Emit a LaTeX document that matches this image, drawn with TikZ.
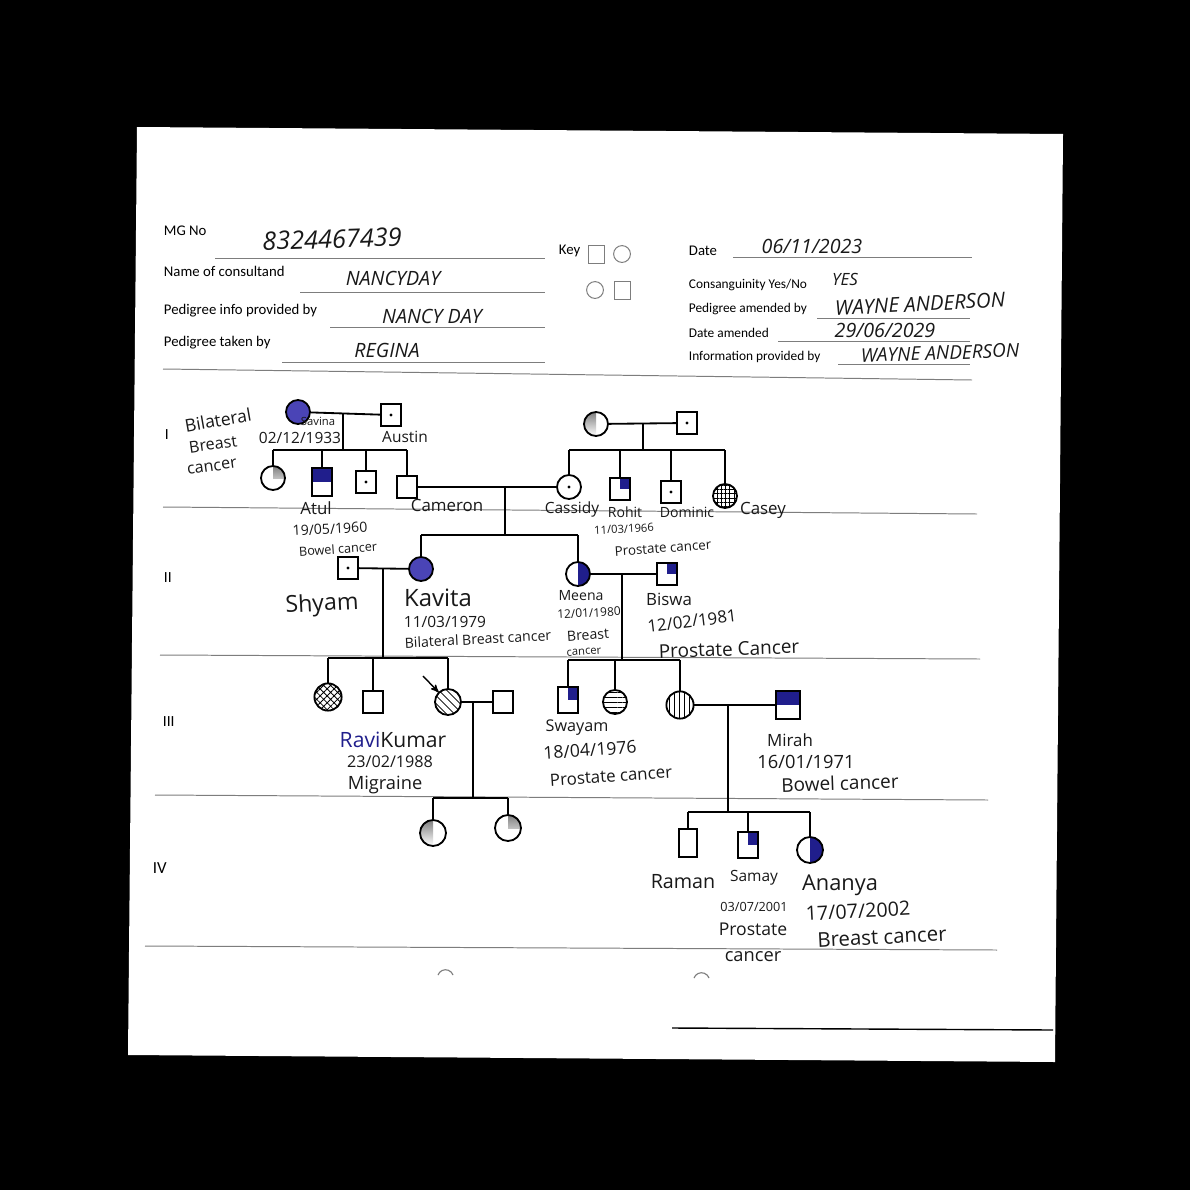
\documentclass[tikz,border=0pt]{standalone}
\usepackage{fontspec}
\setmainfont{Carlito}
\newfontfamily\hand{Open Sans}
\newcommand*{\pen}[1]{\hand\fontsize{#1}{#1}\selectfont}
\usepackage{tikz}
\usetikzlibrary{patterns.meta,arrows}
\definecolor{penblue}{RGB}{74,68,182}
\definecolor{inkblue}{RGB}{32,30,140}
\definecolor{shade}{RGB}{70,62,60}
\definecolor{rulegrey}{RGB}{125,125,125}
\definecolor{ink}{RGB}{25,25,25}
\tikzstyle{male} = [draw, rectangle, minimum width=0.5cm, minimum height=0.55cm, inner sep=0pt]
\tikzstyle{female} = [draw, circle, minimum size=0.6cm, inner sep=0pt]
\tikzstyle{marked} = [path picture={\fill (path picture bounding box.center) circle (1.2pt);}]
\tikzstyle{halfL} = [path picture={\fill[shade] (path picture bounding box.north west) rectangle (path picture bounding box.south);}]
\tikzstyle{halfR} = [path picture={\fill[inkblue] (path picture bounding box.north) rectangle (path picture bounding box.south east);}]
\tikzstyle{quadB} = [path picture={\fill[inkblue] (path picture bounding box.north) rectangle (path picture bounding box.east);}]
\tikzstyle{quadG} = [path picture={\fill[shade] (path picture bounding box.north) rectangle (path picture bounding box.east);}]
\tikzstyle{topB} = [path picture={\fill[inkblue] (path picture bounding box.north west) rectangle (path picture bounding box.east);}]
\tikzstyle{hand} = [inner sep=0pt, text=ink]
\tikzstyle{form} = [anchor=west, inner sep=0pt, font=\fontsize{10.5}{10.5}\selectfont]
\tikzstyle{smallform} = [form, font=\fontsize{9.5}{9.5}\selectfont]
\tikzstyle{formline} = [draw=rulegrey, line width=0.7pt]
\tikzstyle{keybox} = [draw=rulegrey, line width=0.7pt, inner sep=0pt]
\tikzstyle{junction} = [coordinate]

\begin{document}
\begin{tikzpicture}[x=0.025cm, y=-0.025cm, line width=1.3pt, >=stealth']
    \useasboundingbox (0,0) rectangle (1190,1190);
    \fill[black] (0,0) rectangle (1190,1190);
    \fill[white] (137,127) -- (1063,134) -- (1055,1062) -- (128,1055) -- cycle;

    % form header, left
    \node[form] (mgno) at (163,231) {MG No};
    \node[form] (consultand) at (163,271) {Name of consultand};
    \node[form] (infoby) at (163,311) {Pedigree info provided by};
    \node[form] (takenby) at (163,343) {Pedigree taken by};
    \draw[formline] (215,258) -- (545,258);
    \draw[formline] (300,292) -- (545,292);
    \draw[formline] (330,327) -- (545,327);
    \draw[formline] (282,362) -- (545,362);
    \draw[formline] (163,369) -- (972,380);
    \node[hand, rotate=2] (v-mgno) at (332,239) {\pen{18}\itshape 8324467439};
    \node[hand] (v-consultand) at (393,278) {\pen{14}\itshape NANCYDAY};
    \node[hand] (v-infoby) at (432,316) {\pen{14}\itshape NANCY DAY};
    \node[hand] (v-takenby) at (387,350) {\pen{14}\itshape REGINA};

    % key
    \node[form] (key) at (558,251) {Key};
    \node[keybox, minimum width=0.4cm, minimum height=0.45cm] (key1) at (596,254) {};
    \node[keybox, circle, minimum size=0.42cm] (key2) at (622,254) {};
    \node[keybox, circle, minimum size=0.42cm] (key3) at (595,290) {};
    \node[keybox, minimum width=0.4cm, minimum height=0.45cm] (key4) at (622,290) {};

    % form header, right
    \node[form] (date) at (688,251) {Date};
    \node[smallform] (consang) at (688,285) {Consanguinity Yes/No};
    \node[smallform] (amendby) at (688,309) {Pedigree amended by};
    \node[smallform] (amenddate) at (688,333) {Date amended};
    \node[smallform] (infoby2) at (688,357) {Information provided by};
    \draw[formline] (733,257) -- (972,257);
    \draw[formline] (817,318) -- (970,318);
    \draw[formline] (778,341) -- (970,341);
    \draw[formline] (838,364) -- (970,364);
    \node[hand] (v-date) at (812,246) {\pen{14}\itshape 06/11/2023};
    \node[hand] (v-consang) at (845,279) {\pen{12}\itshape YES};
    \node[hand, rotate=3] (v-amendby) at (920,304) {\pen{14.5}\itshape WAYNE ANDERSON};
    \node[hand] (v-amenddate) at (885,330) {\pen{14}\itshape 29/06/2029};
    \node[hand, rotate=2] (v-infoby2) at (940,353) {\pen{13.5}\itshape WAYNE ANDERSON};

    % generation rules and numerals
    \draw[formline] (163,507) -- (977,514);
    \draw[formline] (160,655) -- (980,659);
    \draw[formline] (155,795) -- (988,800);
    \draw[formline] (145,946) -- (997,950);
    \draw[line width=1pt] (672,1028) -- (1053,1030);
    \node[form, font=\fontsize{11}{11}\selectfont] (gen1) at (164,435) {I};
    \node[form, font=\fontsize{11}{11}\selectfont] (gen2) at (163,578) {II};
    \node[form, font=\fontsize{11}{11}\selectfont] (gen3) at (162,722) {III};
    \node[form, font=\fontsize{12}{12}\selectfont] (gen4) at (152,868) {IV};
    \draw[rulegrey, line width=0.8pt] (438,975) arc[start angle=160, end angle=20, radius=0.2cm];
    \draw[rulegrey, line width=0.8pt] (694,978) arc[start angle=160, end angle=20, radius=0.2cm];

    % generation I
    \node[female, fill=penblue] (savina) at (298,412) {};
    \node[male, marked] (austin) at (391,415) {};
    \node[female, halfL] (nana) at (596,424) {};
    \node[male, marked] (papa) at (687,423) {};
    \draw (savina) -- (austin);
    \draw (nana) -- (papa);
    \node[junction] (u1) at (343,414) {};
    \node[junction] (d1) at (343,450) {};
    \node[junction] (u2) at (643,424) {};
    \node[junction] (d2) at (643,450) {};
    \draw (u1) -- (d1);
    \draw (u2) -- (d2);

    % generation II, first row of children
    \node[female, quadG] (sis) at (273,478) {};
    \node[male, topB, minimum height=0.7cm] (atul) at (322,482) {};
    \node[male, marked] (bro) at (366,482) {};
    \node[male] (cameron) at (407,487) {};
    \node[female, marked] (cassidy) at (569,487) {};
    \node[male, quadB] (rohit) at (620,489) {};
    \node[male, marked] (dominic) at (671,492) {};
    \node[female, pattern={Hatch[angle=0,distance=3pt,line width=0.6pt]}] (casey) at (725,496) {};
    \draw (sis |- d1) -- (cameron |- d1);
    \foreach \kid in {sis,atul,bro,cameron} \draw (\kid) -- (\kid |- d1);
    \draw (cassidy |- d2) -- (casey |- d2);
    \foreach \kid in {cassidy,rohit,dominic,casey} \draw (\kid) -- (\kid |- d2);
    \draw (cameron) -- (cassidy);
    \node[junction] (u3) at (505,487) {};
    \node[junction] (d3) at (505,535) {};
    \draw (u3) -- (d3);

    \node[hand, rotate=10] (t-bil1) at (218,420) {\pen{12.5}Bilateral};
    \node[hand, rotate=8] (t-bil2) at (213,444) {\pen{11.5}Breast};
    \node[hand, rotate=8] (t-bil3) at (212,467) {\pen{11.5}cancer};
    \node[hand] (t-savina) at (318,421) {\pen{8}Savina};
    \node[hand] (t-savdob) at (300,438) {\pen{11}02/12/1933};
    \node[hand] (t-austin) at (405,437) {\pen{11}Austin};
    \node[hand] (t-atul) at (316,508) {\pen{12}Atul};
    \node[hand, rotate=3] (t-atuldob) at (330,529) {\pen{10}19/05/1960};
    \node[hand, rotate=4] (t-atulca) at (338,549) {\pen{9}Bowel cancer};
    \node[hand] (t-cameron) at (447,505) {\pen{12}Cameron};
    \node[hand] (t-cassidy) at (572,509) {\pen{11}Cassidy};
    \node[hand] (t-rohit) at (625,512) {\pen{10}Rohit};
    \node[hand] (t-dominic) at (687,512) {\pen{10}Dominic};
    \node[hand] (t-casey) at (763,510) {\pen{12}Casey};
    \node[hand, rotate=3] (t-rohitdob) at (624,529) {\pen{8}11/03/1966};
    \node[hand, rotate=4] (t-rohitca) at (663,548) {\pen{9.5}Prostate cancer};

    % generation II couples
    \node[male, marked] (shyam) at (348,568) {};
    \node[female, fill=penblue] (kavita) at (421,569) {};
    \node[female, halfR] (meena) at (578,574) {};
    \node[male, quadB] (biswa) at (667,574) {};
    \draw (kavita |- d3) -- (meena |- d3);
    \foreach \kid in {kavita,meena} \draw (\kid) -- (\kid |- d3);
    \draw (shyam) -- (kavita);
    \draw (meena) -- (biswa);
    \node[junction] (u4) at (383,568) {};
    \node[junction] (d4) at (383,658) {};
    \node[junction] (u5) at (622,574) {};
    \node[junction] (d5) at (622,660) {};
    \draw (u4) -- (d4);
    \draw (u5) -- (d5);

    \node[hand, rotate=3] (t-shyam) at (322,605) {\pen{16.5}Shyam};
    \node[hand] (t-kavita) at (438,598) {\pen{17}Kavita};
    \node[hand] (t-kavdob) at (445,622) {\pen{11}11/03/1979};
    \node[hand, rotate=3] (t-kavca) at (478,639) {\pen{10}Bilateral Breast cancer};
    \node[hand] (t-meena) at (581,596) {\pen{10}Meena};
    \node[hand, rotate=3] (t-meedob) at (589,613) {\pen{8.5}12/01/1980};
    \node[hand, rotate=4] (t-meeca1) at (588,635) {\pen{10}Breast};
    \node[hand, rotate=4] (t-meeca2) at (584,652) {\pen{8}cancer};
    \node[hand] (t-biswa) at (669,599) {\pen{12}Biswa};
    \node[hand, rotate=7] (t-bisdob) at (692,621) {\pen{12}12/02/1981};
    \node[hand, rotate=2] (t-bisca) at (729,649) {\pen{13.5}Prostate Cancer};

    % generation III
    \node[female, minimum size=0.68cm, pattern={Hatch[angle=45,distance=3.5pt,line width=0.6pt]}] (dau1) at (328,697) {};
    \node[male] (son1) at (373,702) {};
    \node[female, minimum size=0.65cm, pattern={Lines[angle=-45,distance=4pt,line width=0.7pt]}] (ravi) at (448,702) {};
    \node[male] (ravihus) at (503,702) {};
    \node[male, quadB, minimum height=0.65cm] (swayam) at (568,700) {};
    \node[female, pattern={Lines[angle=0,distance=3.5pt,line width=0.7pt]}] (dau2) at (615,702) {};
    \node[female, minimum size=0.68cm, pattern={Lines[angle=90,distance=3.5pt,line width=0.7pt]}] (dau3) at (680,705) {};
    \node[male, topB, minimum width=0.6cm, minimum height=0.72cm] (mirah) at (788,705) {};
    \draw (dau1 |- d4) -- (ravi |- d4);
    \foreach \kid in {dau1,son1,ravi} \draw (\kid) -- (\kid |- d4);
    \draw (swayam |- d5) -- (dau3 |- d5);
    \foreach \kid in {swayam,dau2,dau3} \draw (\kid) -- (\kid |- d5);
    \node[junction] (proband) at (423,676) {};
    \draw[->, line width=1pt] (proband) -- (ravi);
    \draw (ravi) -- (ravihus);
    \draw (dau3) -- (mirah);
    \node[junction] (u6) at (473,703) {};
    \node[junction] (d6) at (473,798) {};
    \node[junction] (u7) at (728,704) {};
    \node[junction] (d7) at (728,812) {};
    \draw (u6) -- (d6);
    \draw (u7) -- (d7);

    \node[hand] (t-ravi) at (393,740) {\pen{15}\textcolor{inkblue}{Ravi}Kumar};
    \node[hand] (t-ravidob) at (390,762) {\pen{11.5}23/02/1988};
    \node[hand] (t-ravica) at (385,785) {\pen{13}Migraine};
    \node[hand] (t-swayam) at (577,728) {\pen{11.5}Swayam};
    \node[hand, rotate=4] (t-swadob) at (590,750) {\pen{12.5}18/04/1976};
    \node[hand, rotate=4] (t-swaca) at (611,776) {\pen{12}Prostate cancer};
    \node[hand] (t-mirah) at (790,740) {\pen{12}Mirah};
    \node[hand] (t-mirdob) at (806,762) {\pen{13}16/01/1971};
    \node[hand, rotate=2] (t-mirca) at (840,783) {\pen{13.5}Bowel cancer};

    % generation IV
    \node[female, halfL, minimum size=0.65cm] (gd1) at (433,833) {};
    \node[female, quadG, minimum size=0.65cm] (gd2) at (508,828) {};
    \node[male, minimum width=0.45cm, minimum height=0.7cm] (raman) at (688,843) {};
    \node[male, quadB, minimum height=0.65cm] (samay) at (748,845) {};
    \node[female, halfR, minimum size=0.65cm] (ananya) at (810,850) {};
    \draw (gd1 |- d6) -- (gd2 |- d6);
    \foreach \kid in {gd1,gd2} \draw (\kid) -- (\kid |- d6);
    \draw (raman |- d7) -- (ananya |- d7);
    \foreach \kid in {raman,samay,ananya} \draw (\kid) -- (\kid |- d7);

    \node[hand] (t-raman) at (683,882) {\pen{14}Raman};
    \node[hand] (t-samay) at (754,878) {\pen{11}Samay};
    \node[hand] (t-ananya) at (840,885) {\pen{15.5}Ananya};
    \node[hand] (t-samdob) at (754,907) {\pen{9}03/07/2001};
    \node[hand, rotate=3] (t-anadob) at (858,911) {\pen{14}17/07/2002};
    \node[hand] (t-samca1) at (753,929) {\pen{12.5}Prostate};
    \node[hand] (t-samca2) at (753,957) {\pen{13}cancer};
    \node[hand, rotate=3] (t-anaca) at (882,937) {\pen{14.5}Breast cancer};
\end{tikzpicture}
\end{document}
